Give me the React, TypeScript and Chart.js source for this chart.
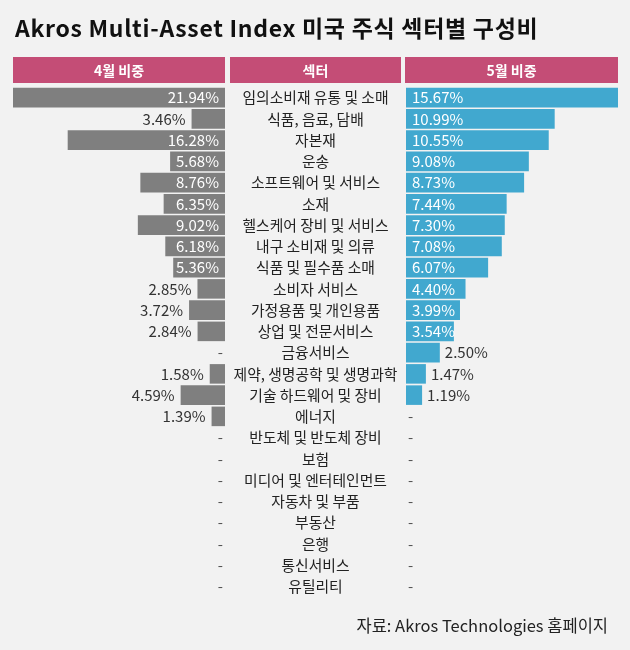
import React, { useEffect, useRef } from 'react';
import { Chart, registerables } from 'chart.js';

Chart.register(...registerables);

const sectors = [
  '임의소비재 유통 및 소매',
  '식품, 음료, 담배',
  '자본재',
  '운송',
  '소프트웨어 및 서비스',
  '소재',
  '헬스케어 장비 및 서비스',
  '내구 소비재 및 의류',
  '식품 및 필수품 소매',
  '소비자 서비스',
  '가정용품 및 개인용품',
  '상업 및 전문서비스',
  '금융서비스',
  '제약, 생명공학 및 생명과학',
  '기술 하드웨어 및 장비',
  '에너지',
  '반도체 및 반도체 장비',
  '보험',
  '미디어 및 엔터테인먼트',
  '자동차 및 부품',
  '부동산',
  '은행',
  '통신서비스',
  '유틸리티',
];

const aprilWeights: (number | null)[] = [
  21.94, 3.46, 16.28, 5.68, 8.76, 6.35, 9.02, 6.18, 5.36, 2.85, 3.72, 2.84,
  null, 1.58, 4.59, 1.39, null, null, null, null, null, null, null, null,
];

const mayWeights: (number | null)[] = [
  15.67, 10.99, 10.55, 9.08, 8.73, 7.44, 7.3, 7.08, 6.07, 4.4, 3.99, 3.54,
  2.5, 1.47, 1.19, null, null, null, null, null, null, null, null, null,
];

const headerLabels = ['4월 비중', '섹터', '5월 비중'];
const titleText = 'Akros Multi-Asset Index 미국 주식 섹터별 구성비';
const sourceText = '자료: Akros Technologies 홈페이지';

const FONT = '"Noto Sans CJK KR", "Noto Sans", sans-serif';
const PINK = '#c44d76';
const GRAY = '#7f7f7f';
const BLUE = '#41a8cf';
const BG = '#f2f2f2';

export default function App() {
  const ref = useRef<HTMLCanvasElement>(null);

  useEffect(() => {
    document.body.style.margin = '0';
    const canvas = ref.current;
    if (!canvas) return;

    const fmt = (v: number) => v.toFixed(2) + '%';
    const maxApr = Math.max(...(aprilWeights.filter((v) => v != null) as number[]));
    const maxMay = Math.max(...(mayWeights.filter((v) => v != null) as number[]));

    const decor = {
      id: 'decor',
      beforeDraw(chart: any) {
        const ctx = chart.ctx;
        const { xL, xM, xR } = chart.scales;
        ctx.save();
        ctx.fillStyle = BG;
        ctx.fillRect(0, 0, chart.width, chart.height);

        ctx.fillStyle = '#111';
        ctx.font = `bold 23px ${FONT}`;
        ctx.textAlign = 'left';
        ctx.textBaseline = 'alphabetic';
        (ctx as any).letterSpacing = '0.7px';
        ctx.fillText(titleText, 15, 37);
        (ctx as any).letterSpacing = '0px';

        const boxes = [
          [xL.left, xL.right],
          [xM.left + 5, xM.right - 5],
          [xR.left - 1, xR.right],
        ];
        boxes.forEach(([a, b], i) => {
          ctx.fillStyle = PINK;
          ctx.fillRect(a, 57, b - a, 26);
          ctx.fillStyle = '#fff';
          ctx.font = `bold 14px ${FONT}`;
          ctx.textAlign = 'center';
          ctx.textBaseline = 'middle';
          ctx.fillText(headerLabels[i], (a + b) / 2, 70.5);
        });

        ctx.fillStyle = '#222';
        ctx.font = `16.5px ${FONT}`;
        ctx.textAlign = 'right';
        ctx.textBaseline = 'alphabetic';
        ctx.fillText(sourceText, 608, 632);
        ctx.restore();
      },
      afterDatasetsDraw(chart: any) {
        const ctx = chart.ctx;
        const { xL, xM, xR, y } = chart.scales;
        ctx.save();
        ctx.textBaseline = 'middle';

        sectors.forEach((s, i) => {
          const py = y.getPixelForValue(i);
          ctx.font = `14.8px ${FONT}`;
          ctx.fillStyle = '#222';
          ctx.textAlign = 'center';
          ctx.fillText(s, (xM.left + xM.right) / 2, py);

          ctx.font = `15px ${FONT}`;
          const a = aprilWeights[i];
          const baseL = xL.getPixelForValue(0);
          if (a == null) {
            ctx.fillStyle = '#555';
            ctx.textAlign = 'right';
            ctx.fillText('-', baseL - 2, py);
          } else {
            const end = xL.getPixelForValue(a);
            if (baseL - end >= 46) {
              ctx.fillStyle = '#fff';
              ctx.textAlign = 'right';
              ctx.fillText(fmt(a), baseL - 6, py);
            } else {
              ctx.fillStyle = '#333';
              ctx.textAlign = 'right';
              ctx.fillText(fmt(a), end - 6, py);
            }
          }

          const m = mayWeights[i];
          const baseR = xR.getPixelForValue(0);
          if (m == null) {
            ctx.fillStyle = '#555';
            ctx.textAlign = 'left';
            ctx.fillText('-', baseR + 2, py);
          } else {
            const end = xR.getPixelForValue(m);
            if (end - baseR >= 46) {
              ctx.fillStyle = '#fff';
              ctx.textAlign = 'left';
              ctx.fillText(fmt(m), baseR + 6, py);
            } else {
              ctx.fillStyle = '#333';
              ctx.textAlign = 'left';
              ctx.fillText(fmt(m), end + 5, py);
            }
          }
        });
        ctx.restore();
      },
    };

    const chart = new Chart(canvas, {
      type: 'bar',
      data: {
        labels: sectors,
        datasets: [
          {
            label: '4월 비중',
            data: aprilWeights,
            xAxisID: 'xL',
            yAxisID: 'y',
            backgroundColor: GRAY,
            grouped: false,
            barPercentage: 0.92,
            categoryPercentage: 1,
          } as any,
          {
            label: '5월 비중',
            data: mayWeights,
            xAxisID: 'xR',
            yAxisID: 'y',
            backgroundColor: BLUE,
            grouped: false,
            barPercentage: 0.92,
            categoryPercentage: 1,
          } as any,
        ],
      },
      options: {
        indexAxis: 'y',
        responsive: false,
        devicePixelRatio: 1,
        animation: false,
        layout: { padding: { top: 87, bottom: 53, left: 13, right: 12 } },
        plugins: { legend: { display: false }, tooltip: { enabled: false } },
        scales: {
          y: { type: 'category', display: false, offset: true },
          xL: {
            type: 'linear',
            position: 'bottom',
            stack: 'row',
            stackWeight: 212,
            reverse: true,
            min: 0,
            max: maxApr,
            display: false,
          },
          xM: {
            type: 'linear',
            position: 'bottom',
            stack: 'row',
            stackWeight: 181,
            min: 0,
            max: 1,
            display: false,
          },
          xR: {
            type: 'linear',
            position: 'bottom',
            stack: 'row',
            stackWeight: 212,
            min: 0,
            max: maxMay,
            display: false,
          },
        } as any,
      },
      plugins: [decor],
    });

    return () => chart.destroy();
  }, []);

  return <canvas ref={ref} width={630} height={650} style={{ display: 'block' }} />;
}
